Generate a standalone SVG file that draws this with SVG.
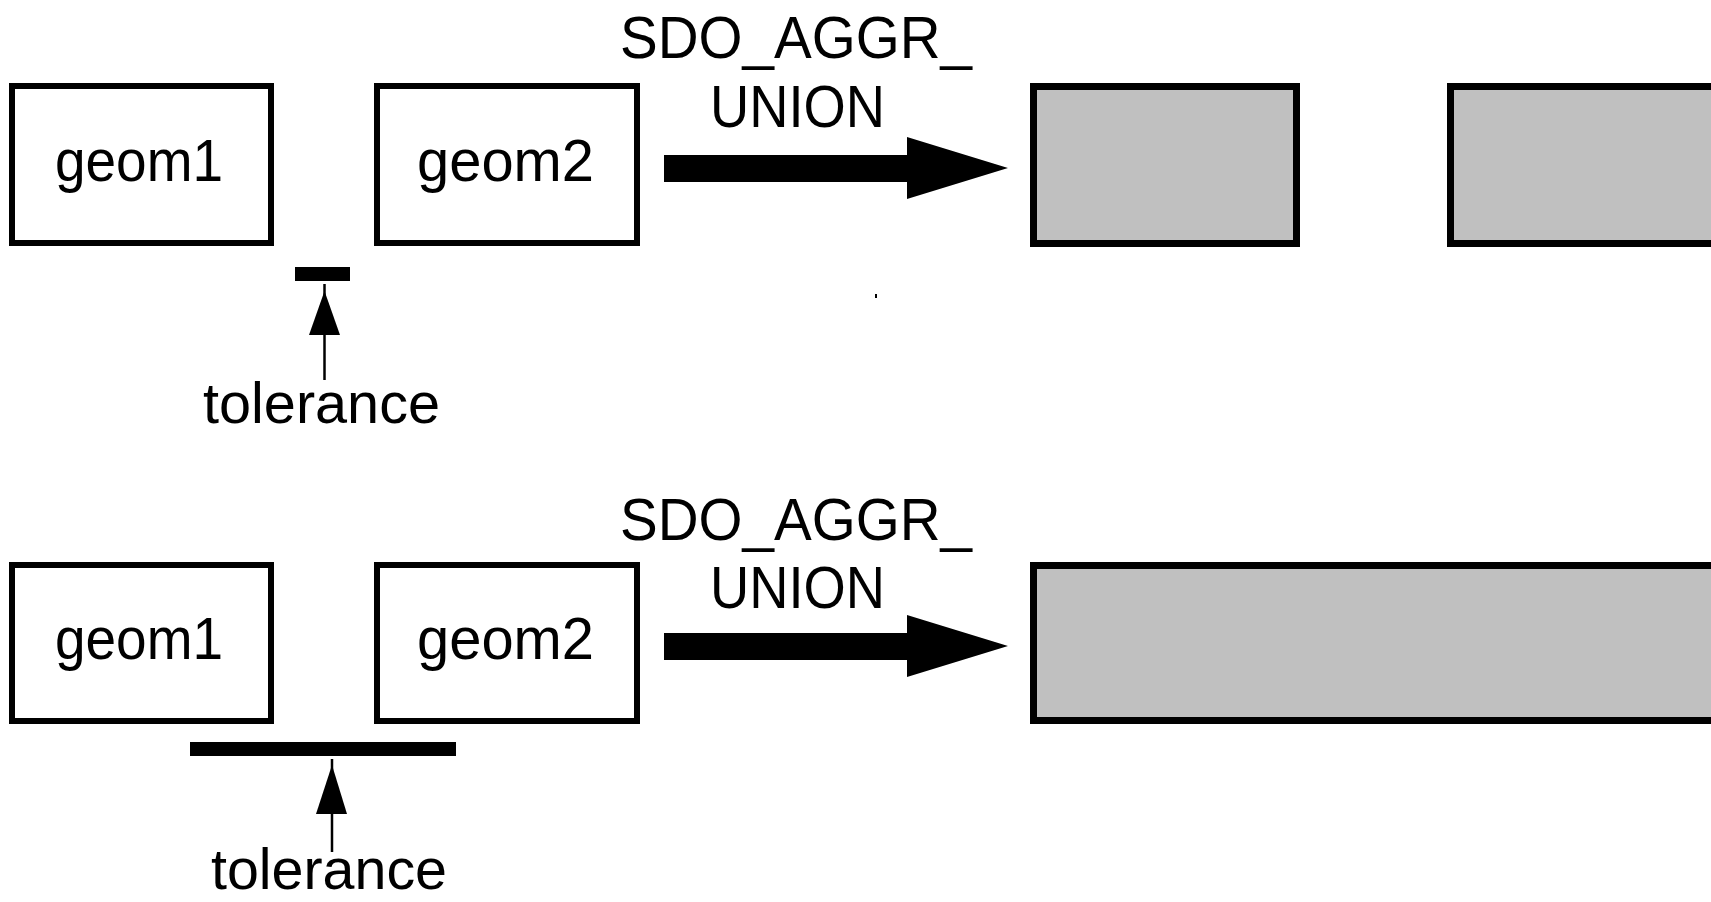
<svg xmlns="http://www.w3.org/2000/svg" width="1711" height="902" viewBox="0 0 1711 902">
<style>
.box{fill:#fff;stroke:#000;stroke-width:6}
.res{fill:#c0c0c0;stroke:#000;stroke-width:7}
.t{font-family:"Liberation Sans",Arial,sans-serif;fill:#000}
.lbl{font-size:60px}
.tol{font-size:57px}
.big{fill:#000}
.ln{stroke:#000;stroke-width:2.5;fill:none}
</style>
<rect width="1711" height="902" fill="#fff"/>
<g id="row1">
  <g id="geom1-a"><rect class="box" x="12" y="86" width="259" height="157"/><text class="t lbl" x="55" y="181" textLength="168" lengthAdjust="spacingAndGlyphs">geom1</text></g>
  <g id="geom2-a"><rect class="box" x="377" y="86" width="260" height="157"/><text class="t lbl" x="417" y="181" textLength="177" lengthAdjust="spacingAndGlyphs">geom2</text></g>
  <g id="result-a1"><rect class="res" x="1033.5" y="86.5" width="263" height="157"/></g>
  <g id="result-a2"><rect class="res" x="1450.5" y="86.5" width="270" height="157"/></g>
  <g id="label-a"><text class="t lbl" x="620" y="58" textLength="352" lengthAdjust="spacingAndGlyphs">SDO_AGGR_</text><text class="t lbl" x="710" y="127" textLength="175" lengthAdjust="spacingAndGlyphs">UNION</text></g>
  <g id="tol-a"><rect class="big" x="295" y="267" width="55" height="14"/><text class="t tol" x="203" y="423" textLength="237" lengthAdjust="spacingAndGlyphs">tolerance</text></g>
  <rect class="big" x="875" y="294" width="2" height="4"/>
</g>
<g id="row2">
  <g id="geom1-b"><rect class="box" x="12" y="565" width="259" height="156"/><text class="t lbl" x="55" y="659" textLength="168" lengthAdjust="spacingAndGlyphs">geom1</text></g>
  <g id="geom2-b"><rect class="box" x="377" y="565" width="260" height="156"/><text class="t lbl" x="417" y="659" textLength="177" lengthAdjust="spacingAndGlyphs">geom2</text></g>
  <g id="result-b"><rect class="res" x="1033.5" y="565.5" width="690" height="155"/></g>
  <g id="label-b"><text class="t lbl" x="620" y="540" textLength="352" lengthAdjust="spacingAndGlyphs">SDO_AGGR_</text><text class="t lbl" x="710" y="608" textLength="175" lengthAdjust="spacingAndGlyphs">UNION</text></g>
  <g id="tol-b"><rect class="big" x="190" y="742" width="266" height="14"/><text class="t tol" x="211" y="889" textLength="236" lengthAdjust="spacingAndGlyphs">tolerance</text></g>
</g>
<g id="connectors">
  <polygon class="big" points="664,155 907,155 907,137 1008,168 907,199 907,182 664,182"/>
  <polygon class="big" points="664,633 907,633 907,615 1008,646 907,677 907,660 664,660"/>
  <line class="ln" x1="324.5" y1="284" x2="324.5" y2="380"/>
  <polygon class="big" points="324.5,291 309,335 340,335"/>
  <line class="ln" x1="332" y1="759" x2="332" y2="852"/>
  <polygon class="big" points="332,765 316,814 347,814"/>
</g>
</svg>
